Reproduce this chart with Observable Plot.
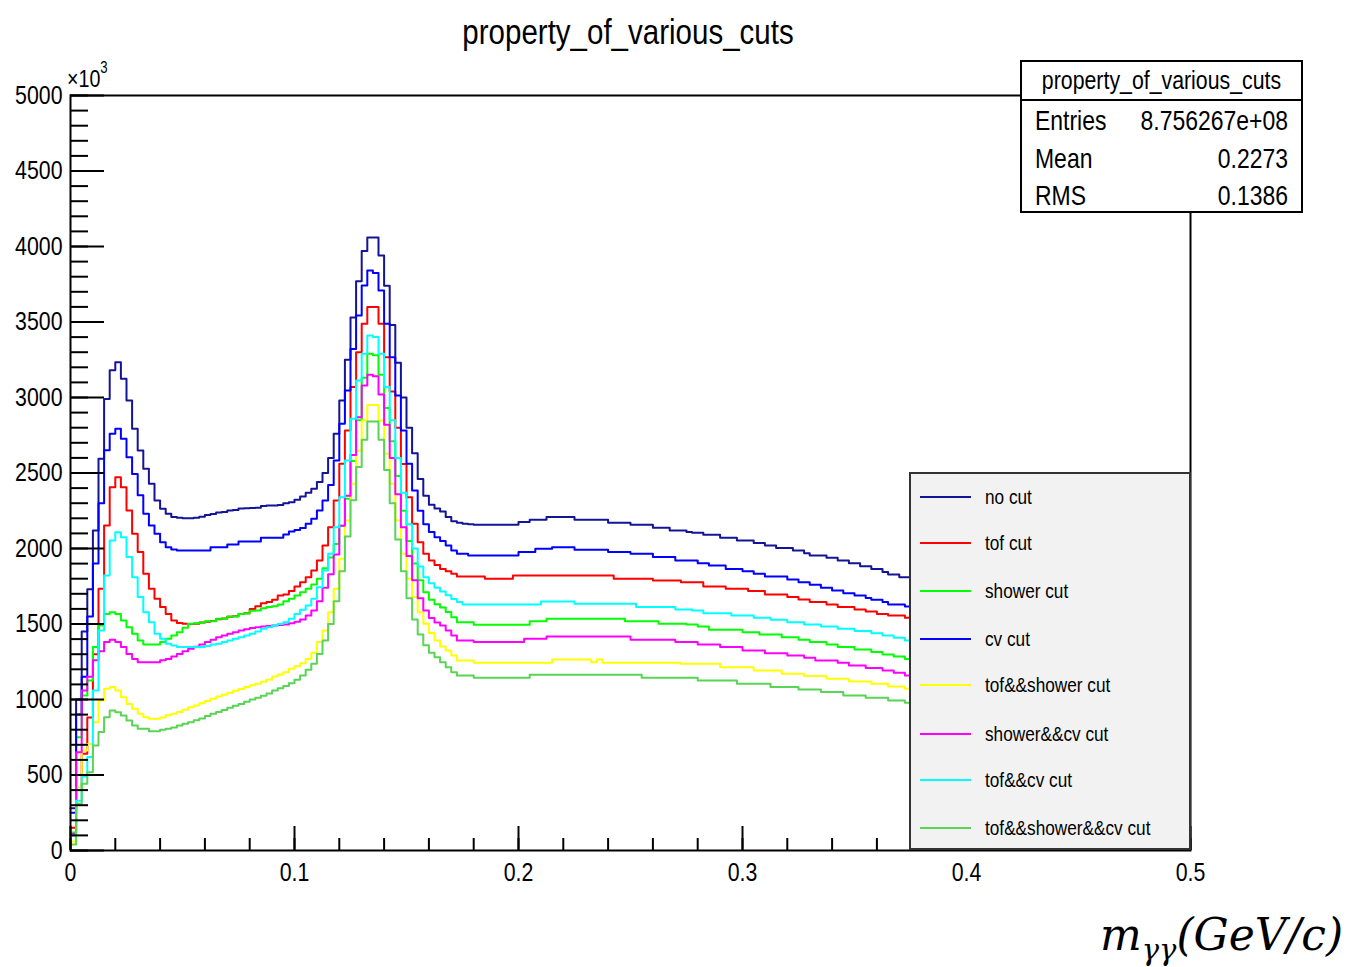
<!DOCTYPE html>
<html>
<head>
<meta charset="utf-8">
<script src="https://cdn.jsdelivr.net/npm/d3@7"></script>
<script src="https://cdn.jsdelivr.net/npm/@observablehq/plot@0.6"></script>
<style>
  html, body { margin: 0; padding: 0; background: #fff; }
  #wrap { position: relative; width: 1356px; height: 967px; overflow: hidden; }
  #wrap > svg { position: absolute; left: 0; top: 0; }
  #overlay { pointer-events: none; }
</style>
</head>
<body>
<div id="wrap"></div>
<script>
// Invariant-mass histograms of photon pairs, 0.0025 GeV bins, counts in units of 10^3
const binLow = 0;
const binWidth = 0.0025;

const seriesNames = ["no cut", "tof cut", "shower cut", "cv cut", "tof&&shower cut", "shower&&cv cut", "tof&&cv cut", "tof&&shower&&cv cut"];
const seriesColors = ["#141496", "#ff0000", "#00ff00", "#0000ff", "#ffff00", "#ff00ff", "#00ffff", "#59d454"];

const noCut = [
  280, 1000, 1450, 1730, 2120, 2594, 2990, 3180, 3234, 3124,
  2980, 2793, 2649, 2528, 2428, 2318, 2263, 2230, 2208, 2203,
  2201, 2201, 2203, 2210, 2222, 2228, 2238, 2241, 2252, 2255,
  2265, 2267, 2268, 2270, 2282, 2285, 2285, 2288, 2300, 2307,
  2323, 2345, 2369, 2395, 2440, 2500, 2600, 2760, 2980, 3250,
  3530, 3770, 3970, 4060, 4060, 3940, 3740, 3480, 3230, 3000,
  2800, 2630, 2460, 2350, 2290, 2265, 2245, 2208, 2180, 2170,
  2164, 2160, 2157, 2157, 2157, 2157, 2157, 2157, 2157, 2157,
  2175, 2175, 2190, 2190, 2190, 2208, 2208, 2208, 2208, 2208,
  2190, 2190, 2190, 2190, 2190, 2190, 2170, 2170, 2170, 2170,
  2157, 2157, 2157, 2157, 2137, 2137, 2137, 2119, 2119, 2119,
  2110, 2104, 2104, 2091, 2091, 2091, 2071, 2071, 2071, 2053,
  2053, 2053, 2036, 2036, 2020, 2020, 2003, 2003, 2003, 1987,
  1987, 1969, 1953, 1953, 1953, 1938, 1938, 1921, 1921, 1903,
  1903, 1883, 1883, 1865, 1865, 1844, 1828, 1828, 1810, 1810,
  1793, 1771
];

const tofCut = [
  150, 420, 640, 880, 1300, 1733, 2152, 2406, 2472, 2406,
  2252, 2097, 1976, 1832, 1733, 1667, 1612, 1567, 1523, 1506,
  1502, 1500, 1502, 1510, 1515, 1520, 1532, 1536, 1548, 1552,
  1566, 1572, 1600, 1618, 1638, 1645, 1660, 1689, 1695, 1718,
  1748, 1777, 1810, 1854, 1921, 2020, 2141, 2318, 2561, 2782,
  3069, 3300, 3488, 3599, 3599, 3488, 3267, 3040, 2800, 2560,
  2340, 2164, 2042, 1965, 1920, 1890, 1865, 1850, 1832, 1815,
  1815, 1815, 1815, 1815, 1799, 1799, 1799, 1799, 1799, 1821,
  1821, 1821, 1821, 1821, 1821, 1821, 1821, 1821, 1821, 1821,
  1821, 1821, 1821, 1821, 1821, 1821, 1821, 1799, 1799, 1799,
  1799, 1799, 1799, 1799, 1788, 1788, 1788, 1788, 1788, 1777,
  1777, 1777, 1777, 1748, 1748, 1748, 1748, 1733, 1733, 1733,
  1733, 1718, 1718, 1718, 1695, 1695, 1695, 1695, 1678, 1678,
  1662, 1662, 1645, 1645, 1645, 1629, 1629, 1612, 1612, 1612,
  1596, 1596, 1583, 1583, 1567, 1567, 1556, 1556, 1556, 1541,
  1541, 1519
];

const showerCut = [
  120, 750, 1027, 1126, 1347, 1490, 1567, 1578, 1567, 1523,
  1479, 1435, 1391, 1364, 1364, 1364, 1380, 1402, 1424, 1446,
  1475, 1501, 1505, 1508, 1519, 1519, 1534, 1534, 1550, 1550,
  1567, 1570, 1588, 1590, 1605, 1612, 1618, 1629, 1651, 1667,
  1689, 1711, 1733, 1762, 1800, 1870, 1940, 2030, 2150, 2330,
  2580, 2850, 3130, 3290, 3280, 3150, 2930, 2710, 2480, 2250,
  2050, 1900, 1790, 1710, 1660, 1630, 1610, 1580, 1545, 1512,
  1512, 1512, 1495, 1495, 1495, 1495, 1495, 1495, 1495, 1495,
  1495, 1495, 1519, 1519, 1519, 1534, 1534, 1534, 1534, 1534,
  1534, 1534, 1534, 1534, 1534, 1534, 1534, 1534, 1534, 1519,
  1519, 1519, 1519, 1519, 1519, 1501, 1501, 1501, 1501, 1501,
  1497, 1497, 1484, 1484, 1462, 1462, 1462, 1462, 1462, 1462,
  1446, 1446, 1446, 1431, 1431, 1431, 1431, 1413, 1413, 1413,
  1395, 1395, 1380, 1380, 1380, 1364, 1364, 1347, 1347, 1347,
  1331, 1331, 1331, 1314, 1314, 1298, 1298, 1285, 1285, 1269,
  1269, 1247
];

const cvCut = [
  250, 900, 1150, 1550, 1900, 2300, 2650, 2760, 2793, 2727,
  2605, 2494, 2352, 2230, 2153, 2097, 2042, 2009, 1993, 1987,
  1987, 1987, 1987, 1987, 1987, 2009, 2009, 2009, 2027, 2027,
  2047, 2047, 2047, 2047, 2071, 2071, 2071, 2071, 2093, 2113,
  2122, 2135, 2164, 2197, 2252, 2318, 2420, 2583, 2826, 3046,
  3322, 3543, 3742, 3841, 3824, 3709, 3488, 3267, 3013, 2782,
  2561, 2384, 2250, 2160, 2110, 2075, 2050, 2020, 1987, 1965,
  1965, 1954, 1954, 1954, 1954, 1954, 1954, 1954, 1954, 1954,
  1976, 1976, 1976, 1998, 1998, 1998, 2009, 2009, 2009, 2009,
  1991, 1991, 1991, 1991, 1991, 1991, 1976, 1976, 1976, 1976,
  1965, 1965, 1965, 1965, 1943, 1943, 1943, 1943, 1921, 1921,
  1921, 1921, 1903, 1903, 1888, 1888, 1888, 1865, 1865, 1865,
  1850, 1850, 1832, 1832, 1815, 1815, 1815, 1815, 1795, 1795,
  1777, 1777, 1760, 1760, 1740, 1740, 1722, 1722, 1704, 1704,
  1689, 1689, 1673, 1660, 1660, 1645, 1629, 1629, 1629, 1616,
  1601, 1579
];

const tofShowerCut = [
  60, 420, 662, 706, 850, 993, 1071, 1082, 1060, 1015,
  971, 938, 905, 883, 872, 872, 880, 895, 905, 918,
  932, 948, 960, 975, 990, 1005, 1020, 1032, 1045, 1058,
  1070, 1082, 1095, 1104, 1118, 1130, 1152, 1165, 1180, 1203,
  1220, 1240, 1269, 1310, 1380, 1457, 1578, 1733, 1932, 2186,
  2428, 2649, 2848, 2950, 2950, 2848, 2627, 2428, 2186, 1965,
  1799, 1678, 1578, 1501, 1440, 1390, 1351, 1325, 1291, 1258,
  1258, 1258, 1243, 1243, 1243, 1243, 1243, 1243, 1243, 1243,
  1243, 1243, 1243, 1243, 1243, 1243, 1265, 1265, 1265, 1265,
  1265, 1265, 1265, 1247, 1265, 1243, 1243, 1243, 1243, 1243,
  1243, 1243, 1243, 1243, 1243, 1243, 1243, 1243, 1243, 1236,
  1236, 1236, 1236, 1236, 1236, 1236, 1214, 1214, 1214, 1214,
  1214, 1214, 1192, 1192, 1192, 1192, 1192, 1170, 1170, 1170,
  1170, 1155, 1155, 1155, 1155, 1137, 1137, 1137, 1137, 1119,
  1119, 1119, 1119, 1104, 1104, 1104, 1086, 1086, 1086, 1071,
  1071, 1071
];

const showerCvCut = [
  110, 650, 1060, 1150, 1260, 1320, 1380, 1395, 1380, 1347,
  1302, 1269, 1247, 1247, 1247, 1247, 1260, 1269, 1285, 1302,
  1320, 1336, 1350, 1364, 1380, 1395, 1413, 1424, 1435, 1445,
  1457, 1466, 1474, 1479, 1483, 1486, 1490, 1494, 1497, 1505,
  1515, 1530, 1556, 1590, 1650, 1740, 1830, 1960, 2150, 2350,
  2620, 2870, 3080, 3150, 3140, 3020, 2820, 2600, 2360, 2140,
  1950, 1790, 1670, 1590, 1540, 1510, 1490, 1457, 1424, 1391,
  1391, 1391, 1380, 1380, 1380, 1380, 1380, 1380, 1380, 1380,
  1380, 1402, 1402, 1402, 1402, 1417, 1417, 1417, 1417, 1417,
  1417, 1417, 1417, 1417, 1417, 1417, 1417, 1417, 1417, 1417,
  1395, 1395, 1395, 1395, 1395, 1395, 1395, 1395, 1380, 1380,
  1380, 1380, 1364, 1364, 1364, 1364, 1347, 1347, 1347, 1347,
  1325, 1325, 1325, 1325, 1307, 1307, 1307, 1307, 1291, 1291,
  1291, 1276, 1276, 1258, 1258, 1258, 1258, 1243, 1243, 1225,
  1225, 1225, 1208, 1208, 1208, 1192, 1192, 1177, 1177, 1159,
  1159, 1144
];

const tofCvCut = [
  100, 330, 490, 620, 1060, 1457, 1821, 2053, 2108, 2075,
  1943, 1810, 1678, 1578, 1512, 1435, 1402, 1369, 1358, 1347,
  1347, 1347, 1347, 1347, 1355, 1364, 1370, 1380, 1391, 1402,
  1413, 1424, 1435, 1450, 1468, 1478, 1490, 1500, 1512, 1534,
  1567, 1594, 1623, 1667, 1744, 1854, 1965, 2141, 2340, 2583,
  2859, 3113, 3289, 3411, 3400, 3289, 3069, 2850, 2600, 2370,
  2160, 2000, 1880, 1810, 1770, 1740, 1715, 1690, 1665, 1645,
  1629, 1629, 1629, 1629, 1629, 1629, 1629, 1629, 1629, 1629,
  1629, 1629, 1629, 1629, 1649, 1649, 1649, 1649, 1649, 1649,
  1634, 1634, 1634, 1634, 1634, 1634, 1634, 1634, 1634, 1634,
  1634, 1612, 1612, 1612, 1612, 1612, 1612, 1612, 1596, 1596,
  1596, 1590, 1590, 1572, 1572, 1572, 1572, 1572, 1556, 1556,
  1556, 1556, 1541, 1541, 1541, 1528, 1528, 1528, 1512, 1512,
  1512, 1497, 1497, 1497, 1484, 1484, 1484, 1468, 1468, 1468,
  1453, 1453, 1453, 1439, 1439, 1424, 1424, 1409, 1409, 1391,
  1391, 1369
];

const tofShowerCvCut = [
  40, 309, 442, 519, 695, 784, 883, 927, 916, 894,
  861, 828, 806, 806, 790, 790, 800, 806, 815, 828,
  840, 850, 862, 875, 890, 905, 918, 930, 945, 958,
  970, 985, 1000, 1011, 1025, 1040, 1060, 1075, 1090, 1108,
  1130, 1159, 1197, 1236, 1302, 1391, 1500, 1650, 1850, 2080,
  2320, 2540, 2720, 2841, 2841, 2720, 2520, 2300, 2060, 1850,
  1670, 1530, 1430, 1360, 1310, 1280, 1247, 1214, 1181, 1159,
  1159, 1159, 1144, 1144, 1144, 1144, 1144, 1144, 1144, 1144,
  1144, 1144, 1164, 1164, 1164, 1164, 1164, 1164, 1164, 1164,
  1164, 1164, 1164, 1164, 1164, 1164, 1164, 1164, 1164, 1164,
  1164, 1164, 1144, 1144, 1144, 1144, 1144, 1144, 1144, 1144,
  1144, 1144, 1126, 1126, 1126, 1126, 1126, 1126, 1126, 1104,
  1104, 1104, 1104, 1104, 1104, 1082, 1082, 1082, 1082, 1082,
  1066, 1066, 1066, 1066, 1049, 1049, 1049, 1049, 1027, 1027,
  1027, 1027, 1011, 1011, 1011, 1011, 993, 993, 993, 978,
  978, 978
];

// Axis ticks and labels
const xMajorTicks = [0, 0.1, 0.2, 0.3, 0.4, 0.5];
const xTickLabels = ["0", "0.1", "0.2", "0.3", "0.4", "0.5"];
const yMajorTicks = [0, 500, 1000, 1500, 2000, 2500, 3000, 3500, 4000, 4500, 5000];
const yTickLabels = ["0", "500", "1000", "1500", "2000", "2500", "3000", "3500", "4000", "4500", "5000"];

// Statistics box
const statsTitle = "property_of_various_cuts";
const statsKeys = ["Entries", "Mean", "RMS"];
const statsValues = ["8.756267e+08", "0.2273", "0.1386"];

const chartTitle = "property_of_various_cuts";

const seriesValues = [noCut, tofCut, showerCut, cvCut, tofShowerCut, showerCvCut, tofCvCut, tofShowerCvCut];

// Step outline: one point per bin low edge, plus the closing upper edge
const rows = [];
seriesValues.forEach((vals, k) => {
  vals.forEach((v, i) => rows.push({ x: binLow + i * binWidth, y: v, name: seriesNames[k] }));
  rows.push({ x: binLow + vals.length * binWidth, y: vals[vals.length - 1], name: seriesNames[k] });
});

// Helvetica-like face, squeezed horizontally to a narrow cut
const FONT = '"Liberation Sans", Arial, sans-serif';
const SQUEEZE = 0.82;

function condense(el) {
  const t = el.getAttribute("transform");
  if (t) {
    el.setAttribute("transform", t + ` scale(${SQUEEZE},1)`);
  } else {
    const x = +el.getAttribute("x") || 0;
    const y = +el.getAttribute("y") || 0;
    el.setAttribute("x", 0);
    el.setAttribute("y", 0);
    el.setAttribute("transform", `translate(${x},${y}) scale(${SQUEEZE},1)`);
  }
}

const W = 1356, H = 967;
const chart = Plot.plot({
  width: W,
  height: H,
  marginLeft: 70,
  marginRight: 166,
  marginTop: 95,
  marginBottom: 117,
  x: { domain: [0, 0.5] },
  y: { domain: [0, 5000] },
  color: { domain: seriesNames, range: seriesColors },
  style: { fontFamily: FONT, fontSize: "26px", color: "black", background: "white" },
  marks: [
    Plot.line(rows, { x: "x", y: "y", z: "name", stroke: "name", curve: "step-after", strokeWidth: 2 }),
    Plot.axisY(d3.range(0, 5001, 100), { anchor: "left", tickSize: -18, tickFormat: () => "", strokeWidth: 2, label: null }),
    Plot.axisY(yMajorTicks, { anchor: "left", tickSize: -34, tickPadding: 42, tickFormat: (d, i) => yTickLabels[i], strokeWidth: 2, label: null, fontSize: 26 }),
    Plot.axisX(d3.range(0, 0.5001, 0.02), { anchor: "bottom", tickSize: -12, tickFormat: () => "", strokeWidth: 2, label: null }),
    Plot.axisX(xMajorTicks, { anchor: "bottom", tickSize: -24, tickPadding: 36, tickFormat: (d, i) => xTickLabels[i], strokeWidth: 2, label: null, fontSize: 26 }),
    Plot.frame({ stroke: "black", strokeWidth: 2 })
  ]
});
document.getElementById("wrap").appendChild(chart);
d3.select(chart).selectAll("text").each(function () { condense(this); });

// Title, exponent, statistics box, legend and axis title drawn on top
const ov = d3.select("#wrap").append("svg")
  .attr("id", "overlay")
  .attr("width", W).attr("height", H)
  .style("font-family", FONT);

function label(x, y, str, size, anchor) {
  return ov.append("text")
    .attr("transform", `translate(${x},${y}) scale(${SQUEEZE},1)`)
    .attr("text-anchor", anchor || "start")
    .attr("font-size", size)
    .text(str);
}

label(628, 44, chartTitle, 36, "middle");

const expo = ov.append("text")
  .attr("transform", `translate(67,87) scale(${SQUEEZE},1)`)
  .attr("font-size", 24);
expo.append("tspan").text("\u00d710");
expo.append("tspan").attr("font-size", 16).attr("dy", -14).text("3");

// statistics box
const sb = { x: 1021, y: 61, w: 281, h: 151 };
ov.append("rect").attr("x", sb.x).attr("y", sb.y).attr("width", sb.w).attr("height", sb.h)
  .attr("fill", "white").attr("stroke", "black").attr("stroke-width", 2);
ov.append("line").attr("x1", sb.x).attr("x2", sb.x + sb.w).attr("y1", 100).attr("y2", 100)
  .attr("stroke", "black").attr("stroke-width", 2);
label(sb.x + sb.w / 2, 89, statsTitle, 26, "middle");
const statBase = [130, 168, 205];
statsKeys.forEach((k, i) => {
  label(1035, statBase[i], k, 28, "start");
  label(1288, statBase[i], statsValues[i], 28, "end");
});

// legend
const lg = { x: 910, y: 473, w: 280, h: 376 };
ov.append("rect").attr("x", lg.x).attr("y", lg.y).attr("width", lg.w).attr("height", lg.h)
  .attr("fill", "#f2f2f2").attr("stroke", "#333").attr("stroke-width", 2);
const legendY = [497, 543, 591, 639, 685, 734, 780, 828];
seriesNames.forEach((name, i) => {
  ov.append("line").attr("x1", 920).attr("x2", 971).attr("y1", legendY[i]).attr("y2", legendY[i])
    .attr("stroke", seriesColors[i]).attr("stroke-width", 2);
  label(985, legendY[i] + 7, name, 21, "start");
});

// x-axis title
const xt = ov.append("text").attr("x", 1100).attr("y", 950)
  .attr("font-family", '"DejaVu Serif", serif').attr("font-style", "italic").attr("font-size", 44);
xt.append("tspan").text("m");
xt.append("tspan").attr("font-size", 29).attr("dy", 10).text("\u03b3\u03b3");
xt.append("tspan").attr("dy", -10).text("(GeV/c)");
</script>
</body>
</html>
